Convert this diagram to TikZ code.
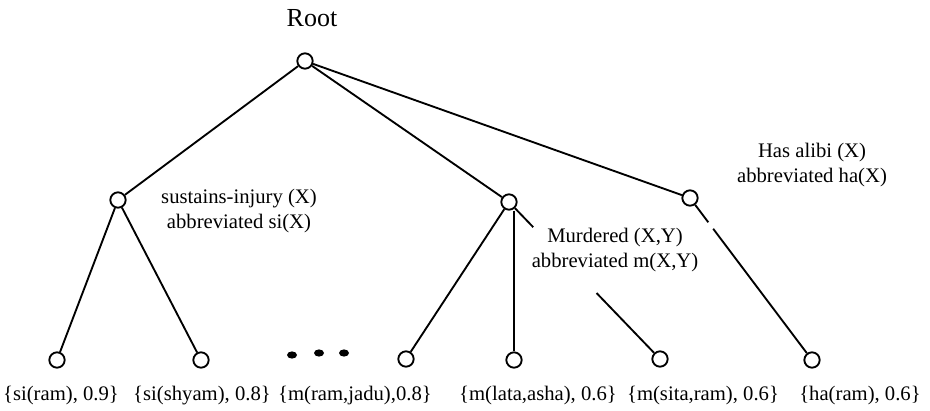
\documentclass[tikz,border=0pt]{standalone}
\usepackage{fontspec}
\setmainfont{Liberation Serif}
\usetikzlibrary{calc}

\begin{document}
\begin{tikzpicture}[
    x=0.75pt, y=-0.75pt,
    treenode/.style={circle, draw, line width=1.4pt, minimum size=11.5pt, inner sep=0pt},
    edge/.style={line width=1.4pt},
    predlabel/.style={align=center, font=\fontsize{15.5}{18.75}\selectfont, inner sep=0pt},
    leaflabel/.style={font=\fontsize{15.5}{18}\selectfont, inner sep=0pt}
]
\useasboundingbox (0,0) rectangle (930,410);

% root and predicate level
\node[font=\fontsize{19.5}{22}\selectfont, inner sep=0pt] (rootlabel) at (312,18) {Root};
\node[treenode] (root) at (305,61) {};
\node[treenode] (si) at (118,200) {};
\node[treenode] (m) at (509,202) {};
\node[treenode] (ha) at (690,198) {};

% ground facts
\node[treenode] (l1) at (57,360) {};
\node[treenode] (l2) at (201,360) {};
\node[treenode] (l3) at (406,359) {};
\node[treenode] (l4) at (514,360) {};
\node[treenode] (l5) at (660,359) {};
\node[treenode] (l6) at (812,360) {};

\fill (292,355) ellipse (5 and 3.6);
\fill (319,353) ellipse (5 and 3.6);
\fill (344,353) ellipse (5 and 3.6);

\draw[edge] (root) -- (si);
\draw[edge] (root) -- (m);
\draw[edge] (root) -- (ha);
\draw[edge] (si) -- (l1);
\draw[edge] (si) -- (l2);
\draw[edge] (m) -- (l3);
\draw[edge] (l4 |- m.south) -- (l4.north);
\draw[edge] (m) -- ($(m)!0.16!(l5)$);
\draw[edge] ($(m)!0.58!(l5)$) -- (l5);
\draw[edge] (ha) -- ($(ha)!0.15!(l6)$);
\draw[edge] ($(ha)!0.19!(l6)$) -- (l6);

% predicate labels
\node[predlabel] (silabel) at (239,211) {sustains-injury (X)\\abbreviated si(X)};
\node[predlabel] (mlabel) at (615,250) {Murdered (X,Y)\\abbreviated m(X,Y)};
\node[predlabel] (halabel) at (812,165) {Has alibi (X)\\abbreviated ha(X)};

% leaf labels
\node[leaflabel] (f1) at (61,396) {\{si(ram), 0.9\}};
\node[leaflabel] (f2) at (202,396) {\{si(shyam), 0.8\}};
\node[leaflabel] (f3) at (355,396) {\{m(ram,jadu),0.8\}};
\node[leaflabel] (f4) at (538,396) {\{m(lata,asha), 0.6\}};
\node[leaflabel] (f5) at (703,396) {\{m(sita,ram), 0.6\}};
\node[leaflabel] (f6) at (860,396) {\{ha(ram), 0.6\}};

\end{tikzpicture}
\end{document}
